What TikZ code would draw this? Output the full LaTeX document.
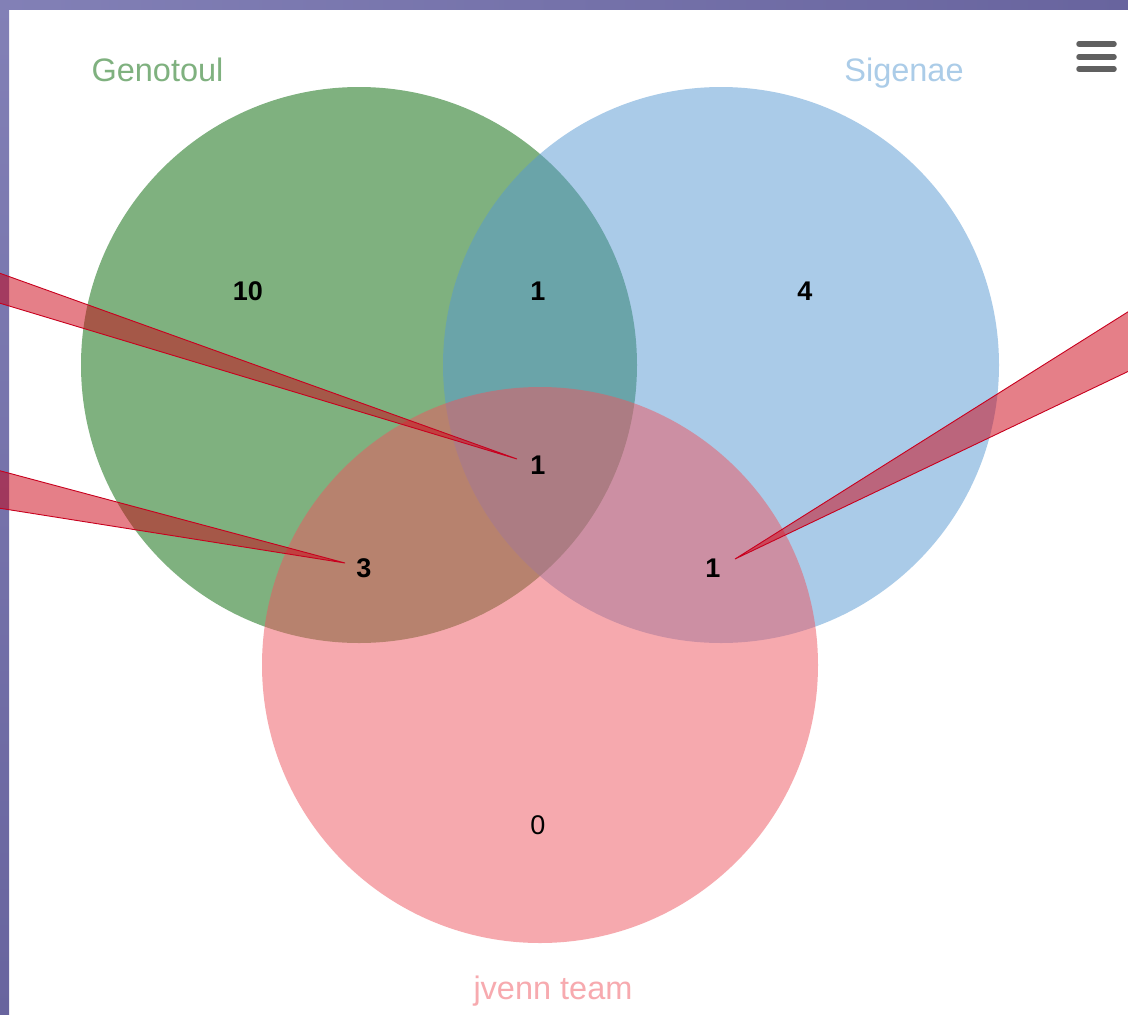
\documentclass[tikz,border=0pt]{standalone}
\usepackage{fontspec}
\setmainfont{Liberation Sans}
\definecolor{vgreen}{RGB}{0,100,0}
\definecolor{vblue}{RGB}{87,153,211}
\definecolor{vpink}{RGB}{239,85,95}
\definecolor{tgreen}{RGB}{127,177,127}
\definecolor{tblue}{RGB}{171,204,232}
\definecolor{tpink}{RGB}{247,170,175}
\definecolor{wedgefill}{RGB}{204,0,18}
\definecolor{wedgeline}{RGB}{200,0,30}
\definecolor{bordA}{RGB}{130,128,182}
\definecolor{bordB}{RGB}{104,100,158}
\definecolor{menugray}{RGB}{96,96,96}
\tikzset{
  setcircle/.style={circle, minimum size=556pt, inner sep=0pt, fill opacity=0.5, draw=none},
  count/.style={font=\fontsize{27}{27}\selectfont\bfseries, text=black, inner sep=0pt},
  countreg/.style={font=\fontsize{27}{27}\selectfont, text=black, inner sep=0pt},
  settitle/.style={font=\fontsize{32.5}{32.5}\selectfont, inner sep=0pt, anchor=base},
  callout/.style={fill=wedgefill, fill opacity=0.5, draw=wedgeline, draw opacity=1, line width=0.9pt, line join=miter},
  menubar/.style={line width=5.5pt, line cap=round, draw=menugray}
}
\begin{document}
\begin{tikzpicture}[x=1pt,y=-1pt]
\useasboundingbox (0,0) rectangle (1128,1015);
\clip (0,0) rectangle (1128,1015);
\fill[white] (0,0) rectangle (1128,1015);
% border strips
\shade[left color=bordA, right color=bordB] (0,0) rectangle (1128,9);
\shade[top color=bordA, bottom color=bordB] (0,0) rectangle (9,1015);
% circles
\node[setcircle, fill=vgreen] (cg) at (359,365) {};
\node[setcircle, fill=vblue] (cb) at (721,365) {};
\node[setcircle, fill=vpink] (cp) at (540,665) {};
% titles
\node[settitle, text=tgreen] (tg) at (157.5,81) {Genotoul};
\node[settitle, text=tblue] (tb) at (904,81) {Sigenae};
\node[settitle, text=tpink] (tp) at (553,999) {jvenn team};
% counts
\node[count] (n10) at (248,291) {10};
\node[count] (ngb) at (538,291) {1};
\node[count] (n4) at (805,291) {4};
\node[count] (nc) at (538,465) {1};
\node[count] (ngp) at (364,568) {3};
\node[count] (nbp) at (713,568) {1};
\node[countreg] (n0) at (538,825) {0};
% callout wedges
\coordinate (w1a) at (-20,266.1);
\coordinate (w1b) at (-20,297.2);
\coordinate (w1t) at (517,459);
\coordinate (w2a) at (-20,465.4);
\coordinate (w2b) at (-20,505.1);
\coordinate (w2t) at (345,563);
\coordinate (w3a) at (1150,298);
\coordinate (w3b) at (1150,361);
\coordinate (w3t) at (735,559);
\filldraw[callout] (w1a) -- (w1t) -- (w1b);
\filldraw[callout] (w2a) -- (w2t) -- (w2b);
\filldraw[callout] (w3a) -- (w3t) -- (w3b);
% menu icon
\coordinate (m1a) at (1079,44); \coordinate (m1b) at (1114,44);
\coordinate (m2a) at (1079,57); \coordinate (m2b) at (1114,57);
\coordinate (m3a) at (1079,69); \coordinate (m3b) at (1114,69);
\draw[menubar] (m1a) -- (m1b);
\draw[menubar] (m2a) -- (m2b);
\draw[menubar] (m3a) -- (m3b);
\end{tikzpicture}
\end{document}
